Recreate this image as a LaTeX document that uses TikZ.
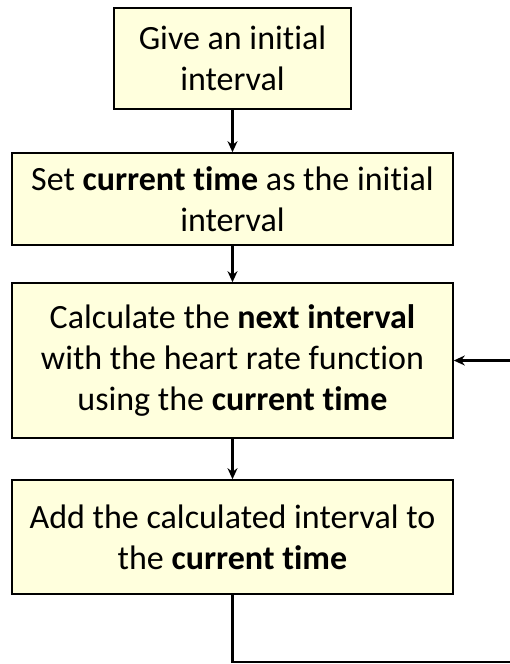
\documentclass[tikz,border=0pt]{standalone}
\usepackage{fontspec}
\setmainfont{Carlito}[Ligatures=NoCommon]
\usetikzlibrary{arrows.meta}
\definecolor{boxfill}{RGB}{255,255,221}
\tikzset{
	stepbox/.style={draw, line width=1.6pt, fill=boxfill, align=center, inner sep=0pt, font=\fontsize{34}{41}\selectfont},
	arrowline/.style={line width=2.6pt, -{Stealth[length=11pt,width=10pt]}}
}
\begin{document}
\begin{tikzpicture}[x=1pt, y=-1pt]
		\useasboundingbox (0,0) rectangle (509,664);
		
		% Boxes
		\node[stepbox, minimum width=237pt, minimum height=101pt] (give) at (232.5, 58.5) {Give an initial\\interval};
		\node[stepbox, minimum width=441pt, minimum height=92pt] (set) at (232.5, 199) {Set \textbf{current time} as the initial\\interval};
		\node[stepbox, minimum width=441pt, minimum height=155pt] (calc) at (232.5, 360.5) {Calculate the \textbf{next interval}\\with the heart rate function\\using the \textbf{current time}};
		\node[stepbox, minimum width=441pt, minimum height=114pt] (add) at (232.5, 537) {Add the calculated interval to\\the \textbf{current time}};
		
		% Arrows
		\draw[arrowline] (give.south) -- (set.north);
		\draw[arrowline] (set.south) -- (calc.north);
		\draw[arrowline] (calc.south) -- (add.north);
		
		% Loop back
		\coordinate (loop) at (512, 662);
		\draw[arrowline] (add.south) |- (loop) |- (calc.east);
	\end{tikzpicture}
\end{document}
